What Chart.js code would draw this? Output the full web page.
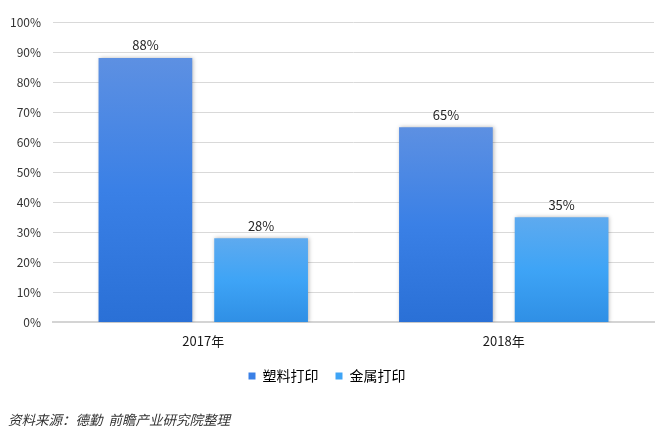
<!DOCTYPE html>
<html>
<head>
<meta charset="utf-8">
<script src="https://cdn.jsdelivr.net/npm/chart.js@4/dist/chart.umd.min.js"></script>
<style>
  html, body { margin: 0; padding: 0; background: #fff; }
  #wrap { width: 672px; height: 439px; position: relative; }
</style>
</head>
<body>
<div id="wrap"><canvas id="shareChart" width="672" height="439"></canvas></div>
<script>
const years = ['2017年', '2018年'];
const plasticShare = [88, 65];
const metalShare = [28, 35];
const yTicks = [0, 10, 20, 30, 40, 50, 60, 70, 80, 90, 100];
const sourceNote = '资料来源：德勤  前瞻产业研究院整理';

const FONT = '"Noto Sans CJK SC", "Noto Sans", sans-serif';

function barGradient(stops) {
    return context => {
        const chart = context.chart;
        const y = chart.scales.y;
        if (!y || context.parsed === undefined) return stops[1];
        const top = y.getPixelForValue(context.parsed.y);
        const bottom = y.getPixelForValue(0);
        const g = chart.ctx.createLinearGradient(0, top, 0, bottom);
        g.addColorStop(0, stops[0]);
        g.addColorStop(0.5, stops[1]);
        g.addColorStop(1, stops[2]);
        return g;
    };
}

const valueLabels = {
    id: 'valueLabels',
    afterDatasetsDraw(chart) {
        const ctx = chart.ctx;
        ctx.save();
        ctx.font = '13px ' + FONT;
        ctx.fillStyle = '#262626';
        ctx.textAlign = 'center';
        ctx.textBaseline = 'bottom';
        chart.data.datasets.forEach((ds, i) => {
            chart.getDatasetMeta(i).data.forEach((bar, j) => {
                ctx.fillText(ds.data[j] + '%', bar.x, bar.y - 6);
            });
        });
        ctx.restore();
    }
};

const barShadow = {
    id: 'barShadow',
    beforeDatasetsDraw(chart) {
        const ctx = chart.ctx;
        ctx.save();
        ctx.shadowColor = 'rgba(0,0,0,0.28)';
        ctx.shadowBlur = 4;
        ctx.shadowOffsetX = 1;
        ctx.shadowOffsetY = 0;
    },
    afterDatasetsDraw(chart) {
        chart.ctx.restore();
    }
};

const sourceText = {
    id: 'sourceText',
    afterDraw(chart) {
        const ctx = chart.ctx;
        ctx.save();
        ctx.font = 'italic 13.5px ' + FONT;
        ctx.fillStyle = '#333';
        ctx.textAlign = 'left';
        ctx.textBaseline = 'middle';
        ctx.fillText(sourceNote, 8, 420);
        ctx.restore();
    }
};

new Chart(document.getElementById('shareChart').getContext('2d'), {
    type: 'bar',
    data: {
        labels: years,
        datasets: [
            { label: '塑料打印', data: plasticShare, backgroundColor: barGradient(['#5d90e2', '#3a80e6', '#2a70d6']) },
            { label: '金属打印', data: metalShare, backgroundColor: barGradient(['#5eaaef', '#3ea4f6', '#2f8fe5']) }
        ]
    },
    options: {
        responsive: false,
        animation: false,
        devicePixelRatio: 1,
        layout: { padding: { top: 22, right: 18, left: 0, bottom: 46 } },
        datasets: { bar: { categoryPercentage: 0.77, barPercentage: 0.81 } },
        plugins: {
            legend: {
                display: true,
                position: 'bottom',
                labels: {
                    boxWidth: 7, boxHeight: 7, padding: 17,
                    color: '#1a1a1a',
                    font: { family: FONT, size: 14 },
                    generateLabels(chart) {
                        return chart.data.datasets.map((ds, i) => ({
                            text: ds.label,
                            fillStyle: ['#3a80e6', '#3ea4f6'][i],
                            strokeStyle: ['#3a80e6', '#3ea4f6'][i],
                            lineWidth: 0,
                            datasetIndex: i
                        }));
                    }
                }
            },
            tooltip: { enabled: false }
        },
        scales: {
            x: {
                grid: { display: false },
                border: { display: true, color: '#d4d4d4', width: 2 },
                ticks: { color: '#1a1a1a', font: { family: FONT, size: 13 }, padding: 3 }
            },
            y: {
                min: 0, max: 100,
                afterBuildTicks(axis) { axis.ticks = yTicks.map(v => ({ value: v })); },
                afterFit(axis) { axis.width = 53; },
                grid: { color: '#d9d9d9', drawTicks: false },
                border: { display: false },
                ticks: { color: '#333', font: { family: FONT, size: 12 }, padding: 12, callback: v => v + '%' }
            }
        }
    },
    plugins: [barShadow, valueLabels, sourceText]
});
</script>
</body>
</html>
